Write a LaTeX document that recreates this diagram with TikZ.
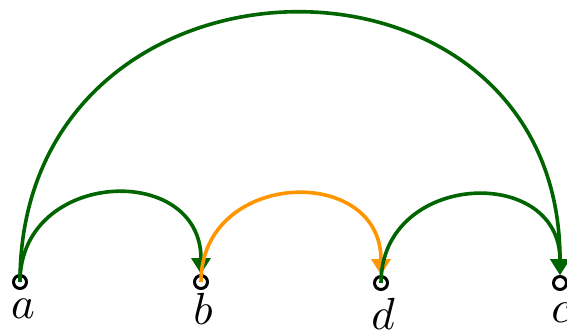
\documentclass[tikz,border=0pt]{standalone}
\usepackage{graphicx}
\usetikzlibrary{arrows.meta}
\definecolor{dgreen}{RGB}{0,100,0}
\definecolor{orng}{RGB}{255,150,0}
\newcommand{\biglbl}[1]{\scalebox{4.5}{$#1$}}
\begin{document}
\begin{tikzpicture}[x=1pt,y=1pt,
  vtx/.style={circle,draw=black,line width=3pt,minimum size=13pt,inner sep=0pt},
  lbl/.style={inner sep=0pt},
  edge/.style={line width=3.6pt,-{Triangle[length=16pt,width=19pt]},out=90,in=90}]
\useasboundingbox (0,0) rectangle (567,333);
\node[vtx] (a) at (20,51) {};
\node[vtx] (b) at (201,51) {};
\node[vtx] (d) at (381,50) {};
\node[vtx] (c) at (560,50) {};
\node[lbl,anchor=north] (la) at (23,34) {\biglbl{a}};
\node[lbl,anchor=north] (lb) at (203,40) {\biglbl{b}};
\node[lbl,anchor=north] (ld) at (383,35) {\biglbl{d}};
\node[lbl,anchor=north] (lc) at (561,30) {\biglbl{c}};
\draw[edge,dgreen,looseness=1.59] (a.center) to (b);
\draw[edge,orng,looseness=1.59] (b.center) to (d);
\draw[edge,dgreen,looseness=1.59] (d.center) to (c);
\draw[edge,dgreen,looseness=1.67] (a.center) to (c);
\end{tikzpicture}
\end{document}
